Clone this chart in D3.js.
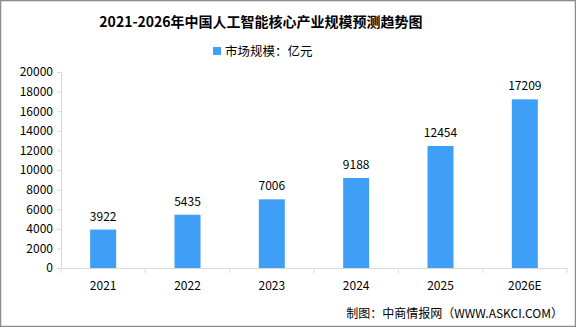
<!DOCTYPE html>
<html><head><meta charset="utf-8">
<script src="https://cdn.jsdelivr.net/npm/d3@7"></script>
<style>
html,body{margin:0;padding:0;background:#fff;}
svg{display:block;}
text{font-family:"Noto Sans CJK SC","Noto Sans",sans-serif;fill:#000;}
</style></head><body>
<svg id="c" width="576" height="327"></svg>
<script>
const title = "2021-2026年中国人工智能核心产业规模预测趋势图";
const legendLabel = "市场规模：亿元";
const source = "制图：中商情报网（WWW.ASKCI.COM）";
const categories = ["2021","2022","2023","2024","2025","2026E"];
const values = [3922,5435,7006,9188,12454,17209];
const yTicks = [0,2000,4000,6000,8000,10000,12000,14000,16000,18000,20000];

const svg = d3.select("#c");
const W = 576, H = 327;
const m = {left:61, right:9, top:72, bottom:59};
svg.append("rect").attr("x",0.5).attr("y",0.5).attr("width",W-1).attr("height",H-1)
  .attr("fill","#fff").attr("stroke","#8c8c8c").attr("stroke-width",1.5);

const x = d3.scaleBand().domain(categories).range([m.left, W-m.right]).padding(0);
const y = d3.scaleLinear().domain([0,20000]).range([H-m.bottom, m.top]);

svg.append("text").attr("x",W/2-27).attr("y",27).attr("text-anchor","middle")
  .attr("font-size",14).attr("font-weight","bold").text(title);

const lg = svg.append("g");
lg.append("rect").attr("x",213).attr("y",47).attr("width",8).attr("height",8).attr("fill","#3f9ef5");
lg.append("text").attr("x",225).attr("y",56).attr("font-size",12.5).text(legendLabel);

// y axis
const ya = svg.append("g").attr("transform",`translate(${m.left},0)`)
  .call(d3.axisLeft(y).tickValues(yTicks).tickSize(4).tickPadding(4).tickFormat(d3.format("d")));
ya.selectAll("path,line").attr("stroke","#d9d9d9");
ya.selectAll("text").attr("font-size",12).attr("fill","#000").attr("font-family","'Noto Sans CJK SC',sans-serif");

// x axis
const xa = svg.append("g").attr("transform",`translate(0,${H-m.bottom})`)
  .call(d3.axisBottom(x).tickSize(0).tickPadding(13));
xa.select("path").attr("stroke","#d9d9d9");
xa.selectAll("text").attr("font-size",12).attr("fill","#000").attr("font-family","'Noto Sans CJK SC',sans-serif");
const edges = categories.map(c=>x(c)).concat([W-m.right]);
svg.append("g").selectAll("line").data(edges).join("line")
  .attr("x1",d=>d).attr("x2",d=>d).attr("y1",H-m.bottom).attr("y2",H-m.bottom+5)
  .attr("stroke","#d9d9d9");

const bw = 26;
svg.append("g").selectAll("rect").data(values).join("rect")
  .attr("x",(d,i)=>x(categories[i])+x.bandwidth()/2-bw/2)
  .attr("y",d=>y(d)).attr("width",bw).attr("height",d=>y(0)-y(d))
  .attr("fill","#3f9ef5");

svg.append("g").selectAll("text").data(values).join("text")
  .attr("x",(d,i)=>x(categories[i])+x.bandwidth()/2)
  .attr("y",d=>y(d)-9).attr("text-anchor","middle").attr("font-size",12)
  .text(d=>d);

svg.append("text").attr("x",563).attr("y",318).attr("text-anchor","end")
  .attr("font-size",12).text(source);
</script></body></html>
